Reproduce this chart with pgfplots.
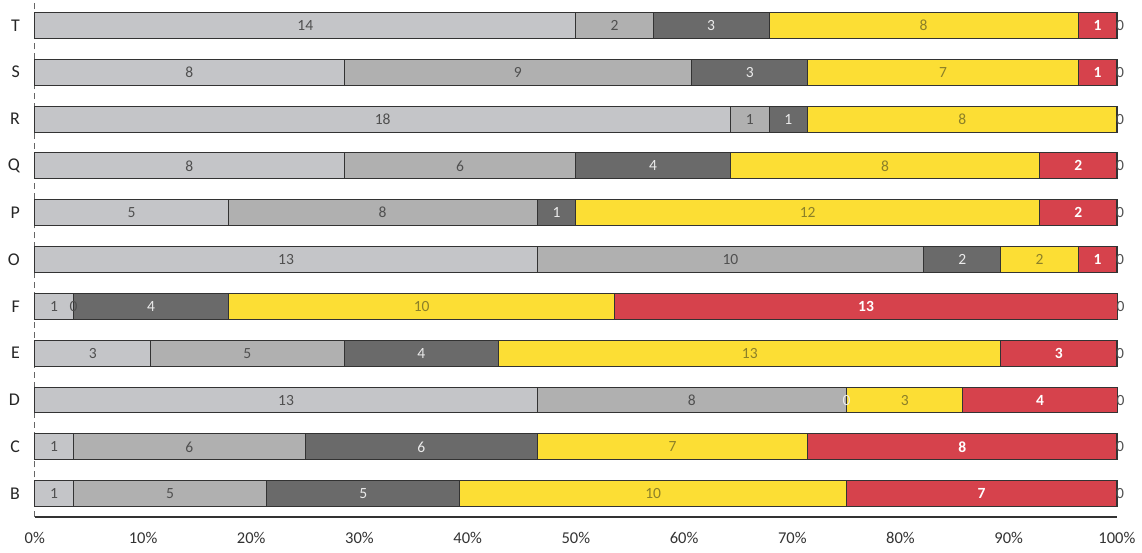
\documentclass[border=0pt]{standalone}
\usepackage{fontspec}
\setmainfont{Carlito}
\usepackage{pgfplots}
\pgfplotsset{compat=1.18}
\definecolor{sA}{RGB}{196,197,200}
\definecolor{sB}{RGB}{176,176,176}
\definecolor{sC}{RGB}{106,106,106}
\definecolor{sY}{RGB}{252,222,52}
\definecolor{sR}{RGB}{214,66,76}
\definecolor{tG}{RGB}{80,80,80}
\definecolor{tY}{RGB}{140,128,40}
\begin{document}
\begin{tikzpicture}
\path (0,0) rectangle (571pt,277.5pt);
\begin{axis}[
  at={(17.5pt,17.75pt)}, anchor=south west,
  scale only axis, width=543.5pt, height=258.75pt,
  xbar stacked, bar width=13pt,
  xmin=0, xmax=28, ymin=-0.5, ymax=10.5,
  clip=false,
  xtick={0,2.8,5.6,8.4,11.2,14,16.8,19.6,22.4,25.2,28},
  xticklabels={0\%,10\%,20\%,30\%,40\%,50\%,60\%,70\%,80\%,90\%,100\%},
  ytick={0,...,10}, yticklabels={B,C,D,E,F,O,P,Q,R,S,T},
  axis x line*=bottom, axis y line*=left,
  major tick length=0pt,
  x axis line style={black!80, line width=0.8pt, -},
  y axis line style={black!60, densely dashed, -},
  xticklabel style={font=\fontsize{8.3}{10}\selectfont, text=black!80, yshift=-4pt},
  yticklabel style={font=\fontsize{9}{11}\selectfont, text=black!85, xshift=-4pt},
  point meta=explicit symbolic,
  nodes near coords,
  every node near coord/.append style={font=\fontsize{7.8}{9}\selectfont},
  every axis plot/.append style={draw=black!80, line width=0.5pt},
]
\addplot[fill=sA, every node near coord/.append style={text=tG}] coordinates {
 (1,0) [1] (1,1) [1] (13,2) [13] (3,3) [3] (1,4) [1] (13,5) [13]
 (5,6) [5] (8,7) [8] (18,8) [18] (8,9) [8] (14,10) [14]};
\addplot[fill=sB, every node near coord/.append style={text=tG}] coordinates {
 (5,0) [5] (6,1) [6] (8,2) [8] (5,3) [5] (0.01,4) [0] (10,5) [10]
 (8,6) [8] (6,7) [6] (1,8) [1] (9,9) [9] (2,10) [2]};
\addplot[fill=sC, every node near coord/.append style={text=white!92!black}] coordinates {
 (5,0) [5] (6,1) [6] (0.01,2) [0] (4,3) [4] (4,4) [4] (2,5) [2]
 (1,6) [1] (4,7) [4] (1,8) [1] (3,9) [3] (3,10) [3]};
\addplot[fill=sY, every node near coord/.append style={text=tY}] coordinates {
 (10,0) [10] (7,1) [7] (3,2) [3] (13,3) [13] (10,4) [10] (2,5) [2]
 (12,6) [12] (8,7) [8] (8,8) [8] (7,9) [7] (8,10) [8]};
\addplot[fill=sR, every node near coord/.append style={text=white, font=\fontsize{7.8}{9}\selectfont\bfseries}] coordinates {
 (7,0) [7] (8,1) [8] (4,2) [4] (3,3) [3] (13,4) [13] (1,5) [1]
 (2,6) [2] (2,7) [2] (0,8) [ ] (1,9) [1] (1,10) [1]};
\addplot[fill=white, every node near coord/.append style={text=tG, xshift=1.5pt}] coordinates {
 (0.01,0) [0] (0.01,1) [0] (0.01,2) [0] (0.01,3) [0] (0.01,4) [0] (0.01,5) [0]
 (0.01,6) [0] (0.01,7) [0] (0.01,8) [0] (0.01,9) [0] (0.01,10) [0]};
\end{axis}
\end{tikzpicture}
\end{document}
